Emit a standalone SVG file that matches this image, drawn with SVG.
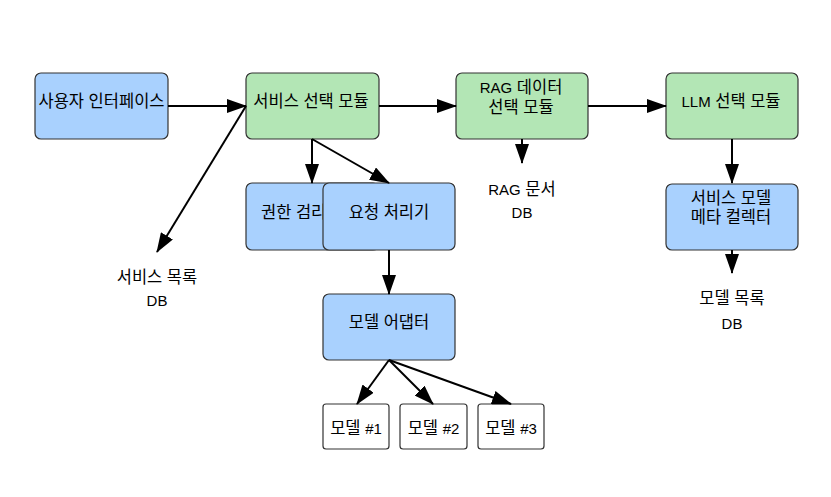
<svg xmlns="http://www.w3.org/2000/svg" width="831" height="497" viewBox="0 0 831 497">
<style>
.box{stroke:#333;stroke-width:1.2}
.blue{fill:#a9d1fe}
.green{fill:#b3e6b5}
.white{fill:#fff}
text{font-family:"Liberation Sans","Noto Sans CJK KR",sans-serif;font-size:16.5px;fill:#000;text-anchor:middle;dominant-baseline:central}
.l{font-size:15px}
.edge{stroke:#000;stroke-width:2;fill:none;marker-end:url(#arr)}
</style>
<defs>
<marker id="arr" markerUnits="userSpaceOnUse" markerWidth="20" markerHeight="14" refX="19" refY="7" orient="auto">
<path d="M0,0 L20,7 L0,14 z" fill="#000"/>
</marker>
</defs>
<rect width="831" height="497" fill="#fff"/>
<g id="nodes">
<g id="ui"><rect class="box blue" x="35" y="73" width="133" height="66" rx="6"/><text x="101.5" y="101">사용자 인터페이스</text></g>
<g id="svcsel"><rect class="box green" x="246" y="73" width="133" height="66" rx="6"/><text x="311" y="101">서비스 선택 모듈</text></g>
<g id="ragsel"><rect class="box green" x="456" y="73" width="132" height="66" rx="6"/><text x="521" y="87"><tspan class="l">RAG</tspan> 데이터</text><text x="521" y="107">선택 모듈</text></g>
<g id="llmsel"><rect class="box green" x="666" y="73" width="132" height="66" rx="6"/><text x="731" y="101"><tspan class="l">LLM</tspan> 선택 모듈</text></g>
<g id="auth"><rect class="box blue" x="246" y="183" width="133" height="67" rx="6"/><text x="261" y="211.5" style="text-anchor:start">권한 검리</text></g>
<g id="req"><rect class="box blue" x="323" y="183" width="132" height="67" rx="6"/><text x="389" y="211.5">요청 처리기</text></g>
<g id="meta"><rect class="box blue" x="666" y="184" width="132" height="66" rx="6"/><text x="731" y="197.5">서비스 모델</text><text x="731" y="217">메타 컬렉터</text></g>
<g id="adapter"><rect class="box blue" x="323" y="294" width="132" height="66" rx="6"/><text x="389" y="321.5">모델 어댑터</text></g>
<g id="m1"><rect class="box white" x="323" y="404" width="66" height="45" rx="3"/><text x="356" y="427.5">모델 <tspan class="l">#1</tspan></text></g>
<g id="m2"><rect class="box white" x="400" y="404" width="67" height="45" rx="3"/><text x="433.5" y="427.5">모델 <tspan class="l">#2</tspan></text></g>
<g id="m3"><rect class="box white" x="478" y="404" width="66" height="45" rx="3"/><text x="511" y="427.5">모델 <tspan class="l">#3</tspan></text></g>
<g id="svcdb"><text x="157" y="277">서비스 목록</text><text x="157" y="300" class="l">DB</text></g>
<g id="ragdb"><text x="522" y="189"><tspan class="l">RAG</tspan> 문서</text><text x="522" y="212" class="l">DB</text></g>
<g id="modeldb"><text x="732" y="298">모델 목록</text><text x="732" y="323" class="l">DB</text></g>
</g>
<g id="connectors">
<line class="edge" x1="168" y1="106" x2="246" y2="106"/>
<line class="edge" x1="379" y1="106" x2="456" y2="106"/>
<line class="edge" x1="588" y1="106" x2="666" y2="106"/>
<line class="edge" x1="246" y1="106" x2="157" y2="252"/>
<line class="edge" x1="312" y1="139" x2="312" y2="183"/>
<line class="edge" x1="312" y1="139" x2="389" y2="183"/>
<line class="edge" x1="522" y1="139" x2="522" y2="163"/>
<line class="edge" x1="732" y1="139" x2="732" y2="183"/>
<line class="edge" x1="732" y1="250" x2="732" y2="273"/>
<line class="edge" x1="389" y1="250" x2="389" y2="294"/>
<line class="edge" x1="389" y1="360" x2="357" y2="404"/>
<line class="edge" x1="389" y1="360" x2="433" y2="404"/>
<line class="edge" x1="389" y1="360" x2="511" y2="404"/>
</g>
</svg>
